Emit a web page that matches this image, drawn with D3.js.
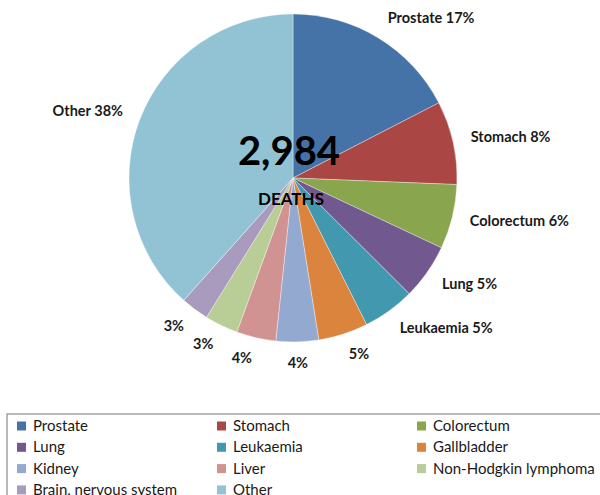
<!DOCTYPE html>
<html>
<head>
<meta charset="utf-8">
<script src="https://cdn.jsdelivr.net/npm/d3@7"></script>
<style>
  body { margin: 0; background: #fff; }
  text { font-family: Lato, "Open Sans", sans-serif; }
</style>
</head>
<body>
<div id="chart"></div>
<script>
// Data
const causes = ["Prostate", "Stomach", "Colorectum", "Lung", "Leukaemia", "Gallbladder",
                "Kidney", "Liver", "Non-Hodgkin lymphoma", "Brain, nervous system", "Other"];
const deaths = [520, 245, 190, 163, 153, 146, 125, 116, 98, 82, 1146];
const colors = ["#4572A7", "#AA4643", "#89A54E", "#71588F", "#4198AF", "#DB843D",
                "#93A9CF", "#D19392", "#B9CD96", "#A99BBD", "#92C3D5"];
// which slices show the name next to the percentage
const showName = [true, true, true, true, true, false, false, false, false, false, true];
const totalLabel = "2,984";
const subLabel = "DEATHS";

const width = 600, height = 495;
const cx = 293, cy = 178, radius = 164;

const svg = d3.select("#chart")
              .append("svg")
              .attr("width", width)
              .attr("height", height);

const total = d3.sum(deaths);
const data = causes.map((c, i) => ({ cause: c, value: deaths[i], color: colors[i], named: showName[i] }));

const pie = d3.pie()
              .value(d => d.value)
              .sort(null);

const arc = d3.arc()
              .innerRadius(0)
              .outerRadius(radius);

const g = svg.append("g")
             .attr("transform", `translate(${cx},${cy})`);

const arcs = pie(data);

g.selectAll("path")
 .data(arcs)
 .join("path")
 .attr("d", arc)
 .attr("fill", d => d.data.color)
 .attr("stroke", "#fff")
 .attr("stroke-opacity", 0.6)
 .attr("stroke-width", 0.6);

// Outside labels
const labelR = radius + 18;
g.selectAll("text.slice-label")
 .data(arcs)
 .join("text")
 .attr("class", "slice-label")
 .each(function(d) {
     const a = (d.startAngle + d.endAngle) / 2;
     const s = Math.sin(a), c = Math.cos(a);
     const x = labelR * s, y = -labelR * c;
     const anchor = Math.abs(s) < 0.2 ? "middle" : (s > 0 ? "start" : "end");
     const pct = Math.round(d.data.value / total * 100) + "%";
     d3.select(this)
       .attr("x", x)
       .attr("y", y + 4 - 4 * c)
       .attr("text-anchor", anchor)
       .text(d.data.named ? `${d.data.cause} ${pct}` : pct);
 })
 .style("font-size", "14.5px")
 .style("font-weight", "bold")
 .attr("fill", "#1a1a1a");

// Centre labels
svg.append("text")
   .attr("x", 289)
   .attr("y", 165)
   .attr("text-anchor", "middle")
   .style("font-size", "40px")
   .style("font-weight", "bold")
   .attr("fill", "#000")
   .text(totalLabel);

svg.append("text")
   .attr("x", 291)
   .attr("y", 205)
   .attr("text-anchor", "middle")
   .style("font-size", "17px")
   .style("font-weight", "bold")
   .attr("fill", "#000")
   .text(subLabel);

// Legend
const legend = svg.append("g")
                  .attr("transform", "translate(7,414)");

legend.append("rect")
      .attr("x", 0)
      .attr("y", 0)
      .attr("width", 620)
      .attr("height", 100)
      .attr("fill", "#fff")
      .attr("stroke", "#8c8c8c")
      .attr("stroke-width", 1.2);

const items = legend.selectAll("g.item")
                    .data(data)
                    .join("g")
                    .attr("class", "item")
                    .attr("transform", (d, i) => `translate(${10 + (i % 3) * 200},${12 + Math.floor(i / 3) * 21.3})`);

items.append("rect")
     .attr("x", 0)
     .attr("y", -4.5)
     .attr("width", 9)
     .attr("height", 9)
     .attr("fill", d => d.color);

items.append("text")
     .attr("x", 16)
     .attr("y", 5)
     .style("font-size", "15px")
     .attr("fill", "#1a1a1a")
     .text(d => d.cause);
</script>
</body>
</html>
